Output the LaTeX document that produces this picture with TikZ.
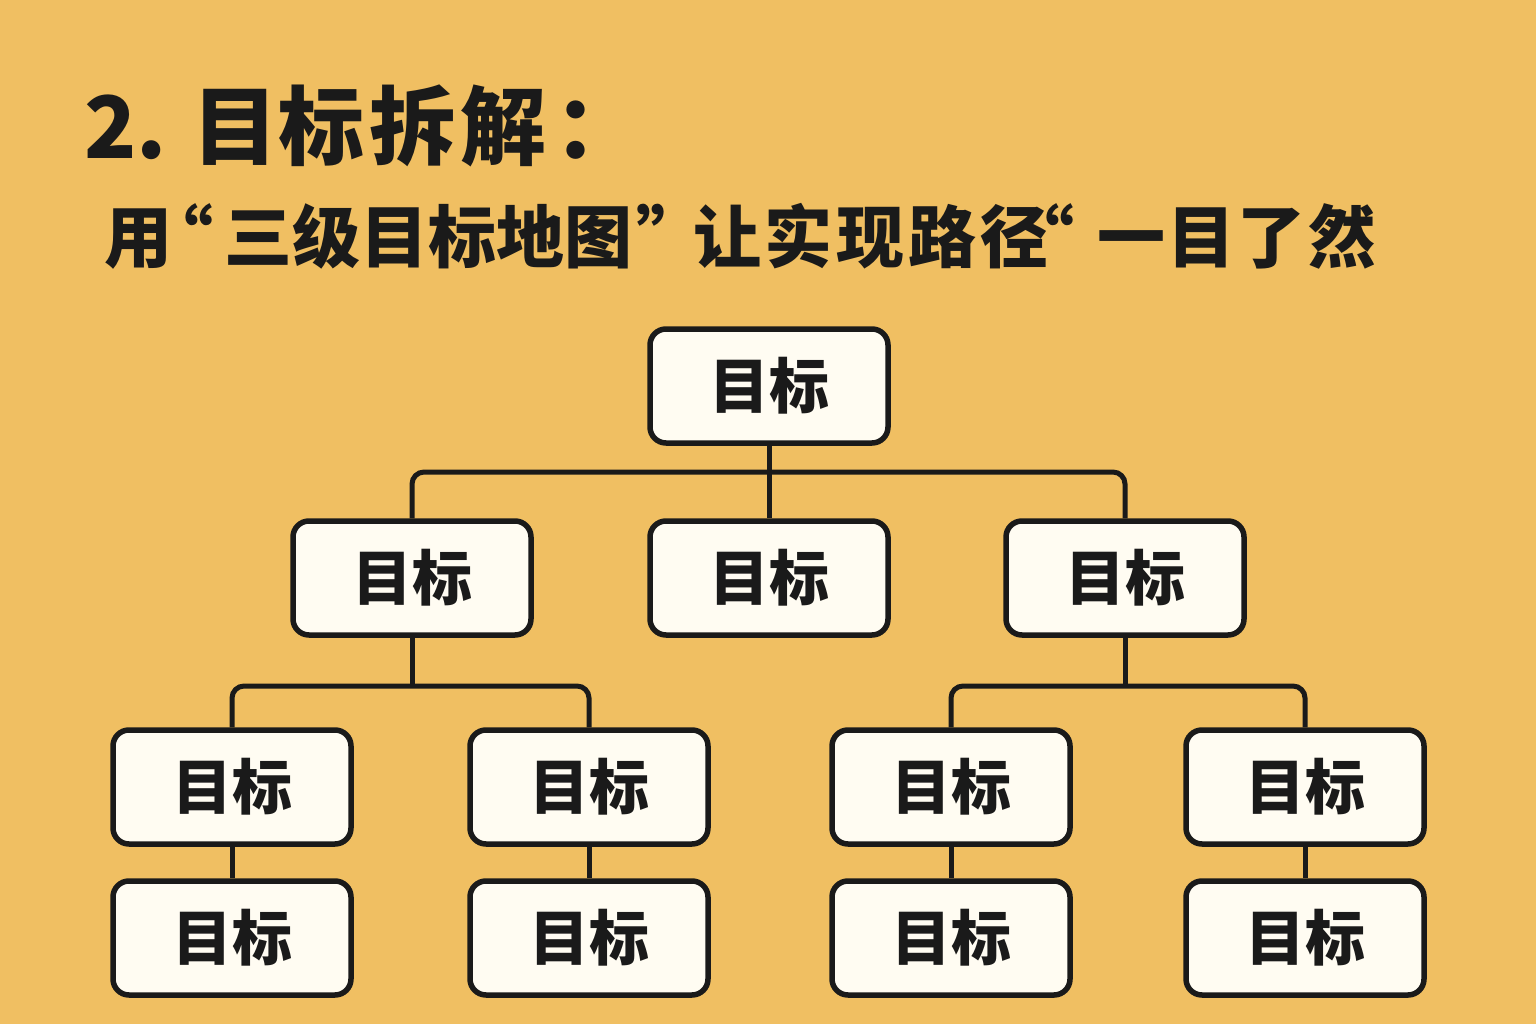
\documentclass[tikz,border=0pt]{standalone}
\usepackage{fontspec}
\setmainfont{Noto Sans CJK SC}
\newfontfamily\heavy{Noto Sans CJK SC}[UprightFont=* Black]
\definecolor{bgc}{RGB}{240,191,98}
\definecolor{boxc}{RGB}{255,252,242}
\definecolor{linec}{RGB}{26,26,26}
\definecolor{txtc}{RGB}{26,26,26}
\begin{document}
\begin{tikzpicture}[x=1pt,y=-1pt,
  goal/.style={draw=linec, line width=5.5pt, fill=boxc, rounded corners=16pt,
    minimum width=238pt, minimum height=114pt, inner sep=0pt,
    font=\fontsize{60}{60}\selectfont\bfseries, text=txtc},
  link/.style={draw=linec, line width=5pt, rounded corners=12pt},
  titlefont/.style={font=\fontsize{86}{86}\selectfont\heavy, text=txtc},
  subfont/.style={font=\fontsize{68}{68}\selectfont\heavy, text=txtc}]
\fill[bgc] (0,0) rectangle (1536,1024);
\useasboundingbox (0,0) rectangle (1536,1024);
\node[titlefont, anchor=base west, inner sep=0pt] (title) at (84,159) {2. 目标\kern5pt拆\kern5pt解\kern8pt：};
\node[subfont, anchor=base west, inner sep=0pt] (sub) at (104,262) {用\kern-27pt“\kern11pt三级目标地图\kern4pt”\kern-11pt让\kern3.75pt实\kern3.75pt现\kern3.75pt路\kern3.75pt径\kern-42pt“\kern23pt一\kern2.3pt目\kern2.3pt了\kern2.3pt然};
\node[goal] (root) at (769,386) {目标};
\node[goal] (l2a) at (412,578) {目标};
\node[goal] (l2b) at (769,578) {目标};
\node[goal] (l2c) at (1125,578) {目标};
\node[goal] (l3a) at (232,787) {目标};
\node[goal] (l3b) at (589,787) {目标};
\node[goal] (l3c) at (951,787) {目标};
\node[goal] (l3d) at (1305,787) {目标};
\node[goal] (l4a) at (232,938) {目标};
\node[goal] (l4b) at (589,938) {目标};
\node[goal] (l4c) at (951,938) {目标};
\node[goal] (l4d) at (1305,938) {目标};
\coordinate (bus1) at (769,472);
\coordinate (bus2) at (412,686);
\coordinate (bus3) at (1125,686);
\draw[link] (l2a.north) |- (l2c.north |- bus1) -- (l2c.north);
\draw[link] (root.south) -- (l2b.north);
\draw[link] (l3a.north) |- (l3b.north |- bus2) -- (l3b.north);
\draw[link] (l2a.south) -- (l2a.south |- bus2);
\draw[link] (l3c.north) |- (l3d.north |- bus3) -- (l3d.north);
\draw[link] (l2c.south) -- (l2c.south |- bus3);
\draw[link] (l3a.south) -- (l4a.north);
\draw[link] (l3b.south) -- (l4b.north);
\draw[link] (l3c.south) -- (l4c.north);
\draw[link] (l3d.south) -- (l4d.north);
\end{tikzpicture}
\end{document}
